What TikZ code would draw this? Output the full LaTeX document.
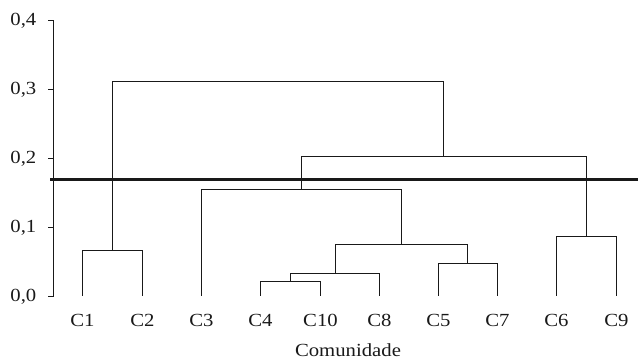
\documentclass[tikz,border=0pt]{standalone}
\usepackage{fontspec}
\setmainfont{Liberation Serif}
\usetikzlibrary{calc}
\tikzset{
  dlink/.style={line width=1.4pt, black!90},
  cutline/.style={line width=3pt, black!90},
  axisline/.style={line width=1.3pt, black!90},
  leaflab/.style={font=\fontsize{18.5}{20}\selectfont, text=black!90, inner sep=0pt, anchor=center},
  ticklab/.style={font=\fontsize{18.5}{20}\selectfont, text=black!90, inner sep=0pt, anchor=east},
}
\newcommand{\wlab}[1]{\scalebox{1.12}[1]{#1}}
\begin{document}
\begin{tikzpicture}[x=1pt,y=-1pt]
\useasboundingbox (0,0) rectangle (638,361);
% axis
\coordinate (ax0) at (53.5,296.5);
\coordinate (ax4) at (53.5,20.5);
\draw[axisline] (ax4) -- (ax0);
\foreach \v/\yy in {0/296.5,1/227.5,2/158.5,3/89.5,4/20.5}{
  \coordinate (t\v) at (53.5,\yy);
  \draw[axisline] (t\v) -- ++(-6,0);
  \node[ticklab] (tl\v) at (36.5,\yy) {\wlab{0,\v}};
}
% leaves
\foreach \n/\xx in {C1/82.5,C2/142.5,C3/201.5,C4/260.5,C10/320.5,C8/379.5,C5/438.5,C7/497.5,C6/556.5,C9/616.5}{
  \coordinate (\n) at (\xx,295.5);
  \node[leaflab] (l\n) at (\xx,320) {\wlab{\n}};
}
\node[leaflab] (xlab) at (348,350) {\wlab{Comunidade}};
% merges
\coordinate (m12) at (112.5,250.5);
\coordinate (m410) at (290.5,281.5);
\coordinate (m4108) at (335.5,273.5);
\coordinate (m57) at (467.5,263.5);
\coordinate (mmid) at (401.5,244.5);
\coordinate (m3) at (301.5,189.5);
\coordinate (m69) at (586.5,236.5);
\coordinate (mr) at (443.5,156.5);
\coordinate (mtop) at (278,81.5);
\draw[dlink] (C1) |- (m12) -| (C2);
\draw[dlink] (C4) |- (m410) -| (C10);
\draw[dlink] (m410) |- (m4108) -| (C8);
\draw[dlink] (C5) |- (m57) -| (C7);
\draw[dlink] (m4108) |- (mmid) -| (m57);
\draw[dlink] (C3) |- (m3) -| (mmid);
\draw[dlink] (C6) |- (m69) -| (C9);
\draw[dlink] (m3) |- (mr) -| (m69);
\draw[dlink] (m12) |- (mtop) -| (mr);
% cut line
\coordinate (cutL) at (50,179.5);
\coordinate (cutR) at (638,179.5);
\draw[cutline] (cutL) -- (cutR);
\end{tikzpicture}
\end{document}
